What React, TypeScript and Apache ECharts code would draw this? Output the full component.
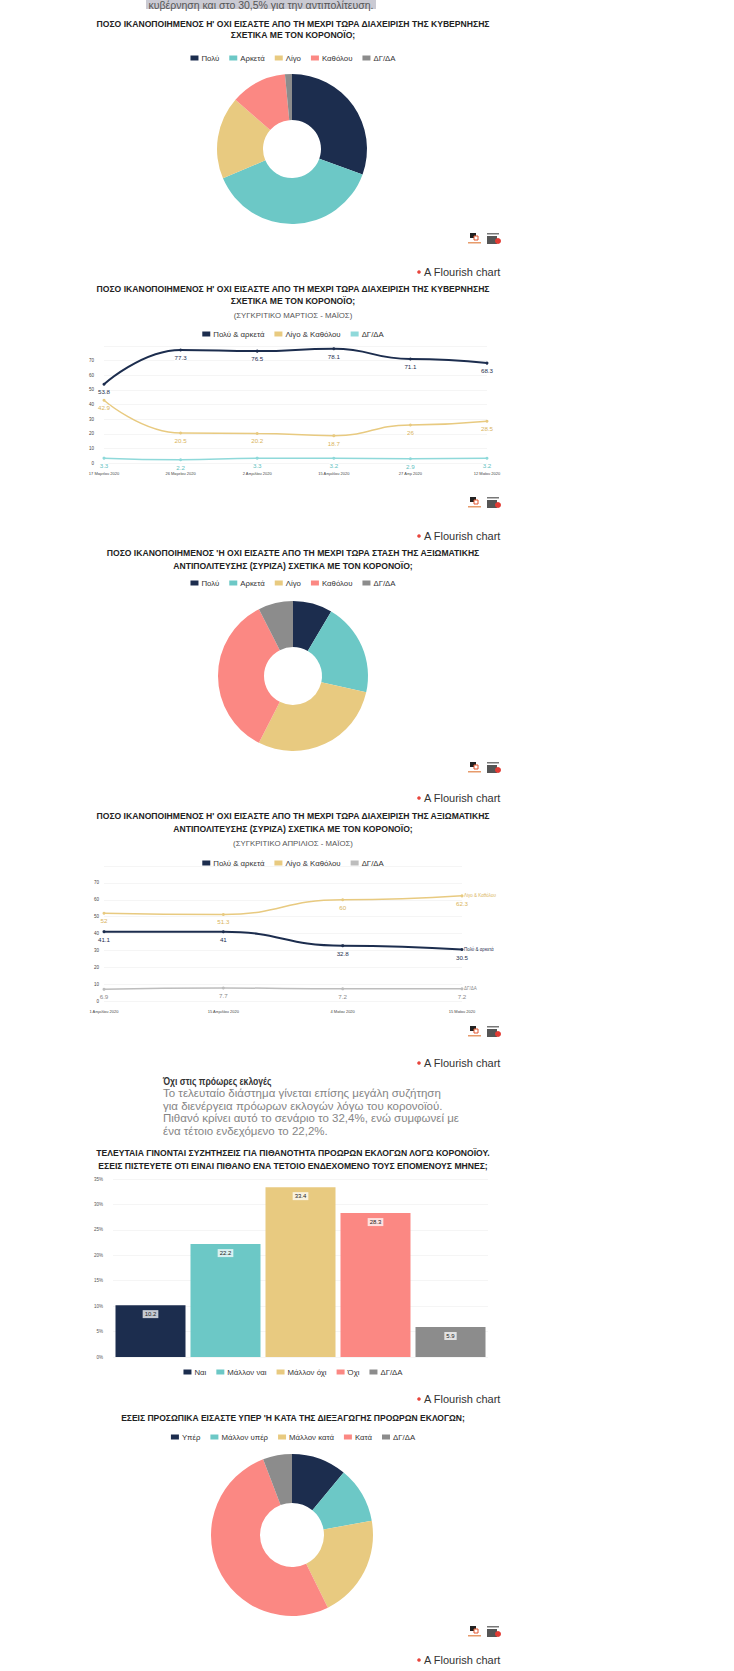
import React, { useEffect, useRef } from "react";
import * as echarts from "echarts";

const NAVY = "#1c2d4e";
const TEAL = "#6cc8c6";
const SAND = "#e8ca80";
const CORAL = "#fb8883";
const GREY = "#8c8c8c";
const CYAN_LIGHT = "#8fd9da";
const GREY_LIGHT = "#bdbdbd";

const COL_LEFT = 84;
const COL_W = 418;
const MID = COL_W / 2;
const FONT = "'Liberation Sans', Arial, sans-serif";

// ---------- data ----------
const pieColors = [NAVY, TEAL, SAND, CORAL, GREY];

const pie1Names = ["Πολύ", "Αρκετά", "Λίγο", "Καθόλου", "ΔΓ/ΔΑ"];
const pie1Values = [30.5, 38.1, 17.8, 12.1, 1.5];

const line2Dates = ["17 Μαρτίου 2020", "26 Μαρτίου 2020", "2 Απριλίου 2020", "15 Απριλίου 2020", "27 Απρ 2020", "12 Μαΐου 2020"];
const line2Names = ["Πολύ & αρκετά", "Λίγο & Καθόλου", "ΔΓ/ΔΑ"];
const line2Good = [53.8, 77.3, 76.5, 78.1, 71.1, 68.3];
const line2Bad = [42.9, 20.5, 20.2, 18.7, 26.0, 28.5];
const line2Dk = [3.3, 2.2, 3.3, 3.2, 2.9, 3.2];

const pie3Names = ["Πολύ", "Αρκετά", "Λίγο", "Καθόλου", "ΔΓ/ΔΑ"];
const pie3Values = [8.5, 20.0, 29.0, 35.0, 7.5];

const line4Dates = ["1 Απριλίου 2020", "15 Απριλίου 2020", "4 Μαΐου 2020", "15 Μαΐου 2020"];
const line4Names = ["Πολύ & αρκετά", "Λίγο & Καθόλου", "ΔΓ/ΔΑ"];
const line4Good = [41.1, 41.0, 32.8, 30.5];
const line4Bad = [52.0, 51.3, 60.0, 62.3];
const line4Dk = [6.9, 7.7, 7.2, 7.2];

const barNames = ["Ναι", "Μάλλον ναι", "Μάλλον όχι", "Όχι", "ΔΓ/ΔΑ"];
const barValues = [10.2, 22.2, 33.4, 28.3, 5.9];

const pie6Names = ["Υπέρ", "Μάλλον υπέρ", "Μάλλον κατά", "Κατά", "ΔΓ/ΔΑ"];
const pie6Values = [11.0, 11.2, 20.5, 51.5, 5.8];

// ---------- helpers ----------
function titleLines(lines: string[], y0: number, dy: number, bold = true, color = "#222", size = 8.6) {
  return lines.map((t, i) => ({
    type: "text",
    x: MID,
    y: y0 + i * dy,
    silent: true,
    style: {
      text: t,
      textAlign: "center",
      textVerticalAlign: "middle",
      font: `${bold ? "bold " : ""}${size}px ${FONT}`,
      fill: color,
    },
  }));
}

function credits(y: number) {
  return [
    {
      type: "circle",
      shape: { cx: 335, cy: y, r: 1.8 },
      style: { fill: "#e8453c" },
      silent: true,
    },
    {
      type: "text",
      x: 340,
      y,
      silent: true,
      style: {
        text: "A Flourish chart",
        textAlign: "left",
        textVerticalAlign: "middle",
        font: `11px ${FONT}`,
        fill: "#333",
      },
    },
  ];
}

function logos(y: number) {
  const x = 386;
  return [
    { type: "rect", shape: { x, y, width: 6, height: 5 }, style: { fill: "#222" }, silent: true },
    { type: "rect", shape: { x: x + 4, y: y + 3, width: 4, height: 4 }, style: { fill: "#fff", stroke: "#e2572e", lineWidth: 1 }, silent: true },
    { type: "rect", shape: { x: x - 2, y: y + 9, width: 13, height: 1.5 }, style: { fill: "#e79b6b" }, silent: true },
    { type: "rect", shape: { x: x + 17, y: y, width: 12, height: 1.5 }, style: { fill: "#777" }, silent: true },
    { type: "rect", shape: { x: x + 17, y: y + 3, width: 10, height: 8 }, style: { fill: "#555" }, silent: true },
    { type: "circle", shape: { cx: x + 28, cy: y + 8, r: 3 }, style: { fill: "#e23b34" }, silent: true },
  ];
}

function legendOf(names: string[], colors: string[], top: number) {
  return {
    top,
    left: "center",
    itemWidth: 8,
    itemHeight: 5,
    itemGap: 10,
    icon: "rect",
    selectedMode: false,
    textStyle: { fontSize: 7.8, color: "#333", fontFamily: FONT, padding: [0, 0, 0, -2] },
    data: names.map((n, i) => ({ name: n, itemStyle: { color: colors[i] } })),
  };
}

function pieSeries(names: string[], values: number[], center: number[], radius: number[]) {
  return {
    type: "pie",
    center,
    radius,
    startAngle: 90,
    clockwise: true,
    avoidLabelOverlap: false,
    label: { show: false },
    labelLine: { show: false },
    emphasis: { disabled: true },
    data: names.map((n, i) => ({ name: n, value: values[i], itemStyle: { color: pieColors[i] } })),
  };
}

function lineSeries(name: string, data: number[], color: string, width: number, labelColor: string, endLabel = false) {
  return {
    name,
    type: "line",
    data,
    smooth: 0.5,
    smoothMonotone: "x",
    symbol: "circle",
    symbolSize: 3,
    lineStyle: { width, color },
    itemStyle: { color },
    label: {
      show: true,
      position: "bottom",
      distance: 3,
      fontSize: 6.2,
      fontFamily: FONT,
      color: labelColor,
      textBorderColor: "#fff",
      textBorderWidth: 2,
      formatter: (p: any) => String(p.value),
    },
    endLabel: endLabel
      ? { show: true, formatter: "{a}", fontSize: 4.5, color: labelColor, fontFamily: FONT, distance: 2 }
      : { show: false },
  };
}

// ---------- section options ----------
function opt1() {
  return {
    animation: false,
    legend: legendOf(pie1Names, pieColors, 49),
    series: [pieSeries(pie1Names, pie1Values, [208, 149], [29, 75])],
    graphic: [
      { type: "rect", shape: { x: 62, y: -2, width: 230, height: 11 }, style: { fill: "#cacad3" }, silent: true },
      {
        type: "text",
        x: 177,
        y: 4.5,
        silent: true,
        style: { text: "κυβέρνηση και στο 30,5% για την αντιπολίτευση.", textAlign: "center", textVerticalAlign: "middle", font: `10.5px ${FONT}`, fill: "#555" },
      },
      ...titleLines(["ΠΟΣΟ ΙΚΑΝΟΠΟΙΗΜΕΝΟΣ Η' ΟΧΙ ΕΙΣΑΣΤΕ ΑΠΟ ΤΗ ΜΕΧΡΙ ΤΩΡΑ ΔΙΑΧΕΙΡΙΣΗ ΤΗΣ ΚΥΒΕΡΝΗΣΗΣ", "ΣΧΕΤΙΚΑ ΜΕ ΤΟΝ ΚΟΡΟΝΟΪΟ;"], 23.5, 11.5),
      ...logos(233),
      ...credits(272),
    ],
  };
}

function lineAxes(dates: string[], gridTop: number, gridBottomY: number, right: number, height: number, yMargin: number) {
  return {
    grid: { left: 20, right: COL_W - right, top: gridTop, bottom: height - gridBottomY, outerBoundsMode: "none" },
    xAxis: {
      type: "category",
      data: dates,
      boundaryGap: false,
      axisLine: { show: false },
      axisTick: { show: false },
      axisLabel: { fontSize: 4, color: "#444", margin: 8, fontFamily: FONT },
      splitLine: { show: false },
    },
    yAxis: {
      type: "value",
      min: 0,
      max: 80,
      interval: 10,
      axisLine: { show: false },
      axisTick: { show: false },
      axisLabel: { fontSize: 4.5, color: "#444", margin: yMargin, showMaxLabel: false, fontFamily: FONT },
      splitLine: { lineStyle: { color: "#efefef", width: 0.6 } },
    },
  };
}

function opt2() {
  const H = 260;
  return {
    animation: false,
    ...lineAxes(line2Dates, 61, 178, 403, H, 10),
    legend: legendOf(line2Names, [NAVY, SAND, CYAN_LIGHT], 40),
    series: [
      lineSeries(line2Names[0], line2Good, NAVY, 2, NAVY),
      lineSeries(line2Names[1], line2Bad, SAND, 1.5, "#d9b45c"),
      lineSeries(line2Names[2], line2Dk, CYAN_LIGHT, 1.5, "#5fbfbf"),
    ],
    graphic: [
      ...titleLines(["ΠΟΣΟ ΙΚΑΝΟΠΟΙΗΜΕΝΟΣ Η' ΟΧΙ ΕΙΣΑΣΤΕ ΑΠΟ ΤΗ ΜΕΧΡΙ ΤΩΡΑ ΔΙΑΧΕΙΡΙΣΗ ΤΗΣ ΚΥΒΕΡΝΗΣΗΣ", "ΣΧΕΤΙΚΑ ΜΕ ΤΟΝ ΚΟΡΟΝΟΪΟ;"], 4, 12),
      ...titleLines(["(ΣΥΓΚΡΙΤΙΚΟ ΜΑΡΤΙΟΣ - ΜΑΪΟΣ)"], 30, 12, false, "#555", 7.8),
      ...logos(212),
      ...credits(251),
    ],
  };
}

function opt3() {
  return {
    animation: false,
    legend: legendOf(pie3Names, pieColors, 29),
    series: [pieSeries(pie3Names, pie3Values, [209, 131], [29, 75])],
    graphic: [
      ...titleLines(["ΠΟΣΟ ΙΚΑΝΟΠΟΙΗΜΕΝΟΣ 'Η ΟΧΙ ΕΙΣΑΣΤΕ ΑΠΟ ΤΗ ΜΕΧΡΙ ΤΩΡΑ ΣΤΑΣΗ ΤΗΣ ΑΞΙΩΜΑΤΙΚΗΣ", "ΑΝΤΙΠΟΛΙΤΕΥΣΗΣ (ΣΥΡΙΖΑ) ΣΧΕΤΙΚΑ ΜΕ ΤΟΝ ΚΟΡΟΝΟΪΟ;"], 8, 13),
      ...logos(217),
      ...credits(253),
    ],
  };
}

function opt4() {
  const H = 262;
  return {
    animation: false,
    ...lineAxes(line4Dates, 56, 191, 378, H, 5),
    legend: legendOf(line4Names, [NAVY, SAND, GREY_LIGHT], 44),
    series: [
      lineSeries(line4Names[0], line4Good, NAVY, 2, NAVY, true),
      lineSeries(line4Names[1], line4Bad, SAND, 1.5, "#d9b45c", true),
      lineSeries(line4Names[2], line4Dk, GREY_LIGHT, 1.5, "#888", true),
    ],
    graphic: [
      ...titleLines(["ΠΟΣΟ ΙΚΑΝΟΠΟΙΗΜΕΝΟΣ Η' ΟΧΙ ΕΙΣΑΣΤΕ ΑΠΟ ΤΗ ΜΕΧΡΙ ΤΩΡΑ ΔΙΑΧΕΙΡΙΣΗ ΤΗΣ ΑΞΙΩΜΑΤΙΚΗΣ", "ΑΝΤΙΠΟΛΙΤΕΥΣΗΣ (ΣΥΡΙΖΑ) ΣΧΕΤΙΚΑ ΜΕ ΤΟΝ ΚΟΡΟΝΟΪΟ;"], 6, 13),
      ...titleLines(["(ΣΥΓΚΡΙΤΙΚΟ ΑΠΡΙΛΙΟΣ - ΜΑΪΟΣ)"], 33, 12, false, "#555", 7.8),
      ...logos(216),
      ...credits(253),
    ],
  };
}

function opt5() {
  const H = 338;
  const colors = [NAVY, TEAL, SAND, CORAL, GREY];
  return {
    animation: false,
    grid: { left: 29, right: COL_W - 404, top: 107, bottom: H - 285, outerBoundsMode: "none" },
    xAxis: {
      type: "category",
      data: barNames,
      axisLine: { show: false },
      axisTick: { show: false },
      axisLabel: { show: false },
    },
    yAxis: {
      type: "value",
      min: 0,
      max: 35,
      interval: 5,
      axisLine: { show: false },
      axisTick: { show: false },
      axisLabel: { fontSize: 4.5, color: "#555", margin: 10, formatter: "{value}%", fontFamily: FONT },
      splitLine: { lineStyle: { color: "#efefef", width: 0.6 } },
    },
    legend: legendOf(barNames, colors, 291),
    series: barNames.map((n, i) => ({
      name: n,
      type: "bar",
      stack: "all",
      barWidth: 70,
      data: barValues.map((v, j) => (j === i ? v : "-")),
      itemStyle: { color: colors[i] },
      label: {
        show: true,
        position: "insideTop",
        distance: 5,
        fontSize: 6,
        fontFamily: FONT,
        color: "#222",
        backgroundColor: "rgba(255,255,255,0.75)",
        padding: [1, 2],
        formatter: (p: any) => Number(p.value).toFixed(1),
      },
    })),
    graphic: [
      {
        type: "text",
        x: 79,
        y: 9,
        scaleX: 0.82,
        silent: true,
        style: { text: "Όχι στις πρόωρες εκλογές", textAlign: "left", textVerticalAlign: "middle", font: `bold 10.5px ${FONT}`, fill: "#333" },
      },
      {
        type: "text",
        x: 79,
        y: 15,
        silent: true,
        style: {
          text: "Το τελευταίο διάστημα γίνεται επίσης μεγάλη συζήτηση\nγια διενέργεια πρόωρων εκλογών λόγω του κορονοϊού.\nΠιθανό κρίνει αυτό το σενάριο το 32,4%, ενώ συμφωνεί με\nένα τέτοιο ενδεχόμενο το 22,2%.",
          textAlign: "left",
          textVerticalAlign: "top",
          font: `11.5px ${FONT}`,
          lineHeight: 12.5,
          fill: "#858585",
        },
      },
      ...titleLines(["ΤΕΛΕΥΤΑΙΑ ΓΙΝΟΝΤΑΙ ΣΥΖΗΤΗΣΕΙΣ ΓΙΑ ΠΙΘΑΝΟΤΗΤΑ ΠΡΟΩΡΩΝ ΕΚΛΟΓΩΝ ΛΟΓΩ ΚΟΡΟΝΟΪΟΥ.", "ΕΣΕΙΣ ΠΙΣΤΕΥΕΤΕ ΟΤΙ ΕΙΝΑΙ ΠΙΘΑΝΟ ΕΝΑ ΤΕΤΟΙΟ ΕΝΔΕΧΟΜΕΝΟ ΤΟΥΣ ΕΠΟΜΕΝΟΥΣ ΜΗΝΕΣ;"], 81, 13),
      ...credits(327),
    ],
  };
}

function opt6() {
  return {
    animation: false,
    legend: legendOf(pie6Names, pieColors, 18),
    series: [pieSeries(pie6Names, pie6Values, [208, 125], [32, 81])],
    graphic: [
      ...titleLines(["ΕΣΕΙΣ ΠΡΟΣΩΠΙΚΑ ΕΙΣΑΣΤΕ ΥΠΕΡ 'Η ΚΑΤΑ ΤΗΣ ΔΙΕΞΑΓΩΓΗΣ ΠΡΟΩΡΩΝ ΕΚΛΟΓΩΝ;"], 8, 13, true, "#222", 8.5),
      ...logos(216),
      ...credits(250),
    ],
  };
}

function Panel({ top, height, build }: { top: number; height: number; build: () => any }) {
  const ref = useRef<HTMLDivElement>(null);
  useEffect(() => {
    if (!ref.current) return;
    const chart = echarts.init(ref.current, null, { renderer: "svg" });
    chart.setOption(build());
    return () => chart.dispose();
  }, []);
  return <div ref={ref} style={{ position: "absolute", left: COL_LEFT, top, width: COL_W, height }} />;
}

export default function App() {
  return (
    <div style={{ position: "absolute", left: 0, top: 0, width: 734, height: 1671, background: "#fff", overflow: "hidden" }}>
      <Panel top={0} height={285} build={opt1} />
      <Panel top={285} height={260} build={opt2} />
      <Panel top={545} height={265} build={opt3} />
      <Panel top={810} height={262} build={opt4} />
      <Panel top={1072} height={338} build={opt5} />
      <Panel top={1410} height={261} build={opt6} />
    </div>
  );
}
